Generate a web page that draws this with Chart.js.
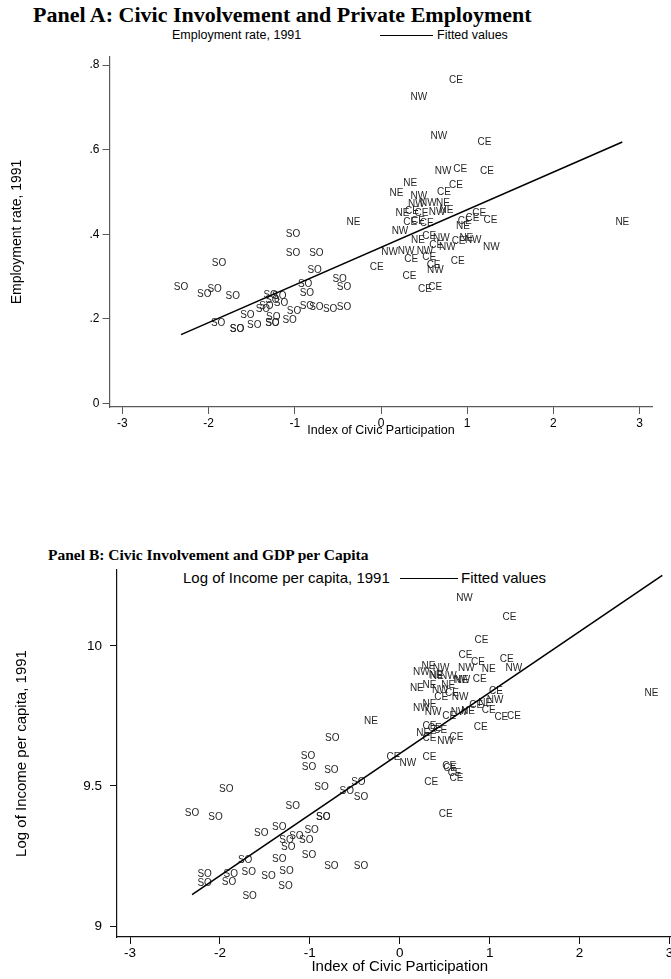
<!DOCTYPE html>
<html><head><meta charset="utf-8">
<script src="https://cdn.jsdelivr.net/npm/chart.js@4/dist/chart.umd.min.js"></script>
<style>
html,body{margin:0;padding:0;background:#fff;width:671px;height:979px;overflow:hidden;position:relative}
.t{position:absolute;white-space:nowrap;color:#000}
.title{font-family:"Liberation Serif","Times New Roman",serif;font-weight:bold}
.leg{font-family:"Liberation Sans",Arial,sans-serif}
.ln{position:absolute;height:0;border-top:1.2px solid #000}
canvas{position:absolute;left:0}
</style></head><body>
<div class="t title" style="left:33px;top:3px;font-size:22px;line-height:24px">Panel A: Civic Involvement and Private Employment</div>
<div class="t leg" style="left:172px;top:25px;font-size:12.5px;line-height:20px">Employment rate, 1991</div>
<div class="ln" style="left:380px;top:35px;width:53px"></div>
<div class="t leg" style="left:437px;top:25px;font-size:12.5px;line-height:20px">Fitted values</div>

<div class="t title" style="left:48px;top:545px;font-size:15.5px;line-height:20px">Panel B: Civic Involvement and GDP per Capita</div>
<div class="t leg" style="left:183px;top:567px;font-size:15px;line-height:22px">Log of Income per capita, 1991</div>
<div class="ln" style="left:400px;top:578px;width:58px"></div>
<div class="t leg" style="left:461px;top:567px;font-size:15px;line-height:22px">Fitted values</div>

<canvas id="ca" width="671" height="445" style="top:0"></canvas>
<canvas id="cb" width="700" height="439" style="top:540px"></canvas>
<script>
// ---------- Panel A data ----------
const regA = ['SO','SO','SO','SO','SO','SO','SO','SO','SO','SO','SO','SO','SO','SO','SO','SO','SO','SO','SO','SO','SO','SO','SO','SO','SO','SO','SO','SO','SO','SO','SO','SO','SO',
 'CE','NW','NW','CE','NW','CE','CE','NE','CE','NE','CE','NW','NW','NW','NE','NE','CE','CE','NW','NE','NE','CE','CE','CE','NW','NE','CE','CE','CE','CE','NE',
 'NE','CE','NW','CE','NW','CE','NE','NW','NW','NW','NW','NW','CE','CE','CE','NW','CE','CE','CE','CE','CE'];
const civicA = [-2.32,-2.05,-1.93,-1.72,-1.88,-1.02,-1.02,-0.75,-0.77,-0.88,-0.48,-0.43,-0.86,-1.28,-1.18,-1.26,-1.16,-1.33,-1.37,-0.86,-0.75,-0.59,-0.43,-1.01,-1.55,-1.89,-1.25,-1.06,-1.67,-1.67,-1.47,-1.26,-1.26,
 0.87,0.44,0.67,1.20,0.72,0.92,1.23,0.34,0.87,0.18,0.73,0.44,0.41,0.55,0.72,0.25,0.36,0.47,0.65,0.76,-0.32,0.34,0.43,0.53,0.22,0.95,0.97,1.06,1.14,1.27,2.80,
 0.43,0.56,0.70,0.64,0.77,0.90,0.99,1.07,1.28,0.10,0.29,0.51,0.35,0.56,0.61,0.63,0.89,-0.05,0.33,0.51,0.63];
const empA = [0.276,0.259,0.270,0.254,0.332,0.401,0.355,0.355,0.314,0.282,0.294,0.276,0.261,0.256,0.254,0.244,0.238,0.229,0.223,0.229,0.227,0.223,0.227,0.219,0.208,0.190,0.205,0.197,0.175,0.175,0.185,0.190,0.190,
 0.764,0.724,0.632,0.618,0.550,0.554,0.549,0.520,0.517,0.496,0.499,0.490,0.472,0.474,0.474,0.450,0.454,0.449,0.452,0.456,0.428,0.428,0.430,0.425,0.408,0.420,0.430,0.438,0.450,0.434,0.428,
 0.385,0.395,0.391,0.375,0.370,0.383,0.391,0.385,0.370,0.357,0.361,0.361,0.341,0.345,0.328,0.316,0.337,0.322,0.300,0.270,0.276];
const fitXA = [-2.32, 2.80];
const fitEmp = [0.163, 0.618];

// ---------- Panel B data ----------
const regB = ['NW','CE','CE','CE','CE','NW','NE','CE','NW','NE','NW','NW','NE','NE','NW','NE','NW','CE','NE','NE','NW','NE','CE','CE','NW','CE','NW','NE','NW','NE','NW','CE','NW','NE','CE','CE','CE','CE','CE','CE','NE','CE','CE','CE','NW','CE','CE','NW','CE','CE','CE','CE','CE','CE','CE','NE','NE',
 'SO','SO','SO','SO','SO','SO','SO','SO','SO','SO','SO','SO','SO','SO','SO','SO','SO','SO','SO','SO','SO','SO','SO','SO','SO','SO','SO','SO','SO','SO','SO','SO','SO','SO','SO'];
const civicB = [0.72,1.22,0.91,0.73,0.87,0.74,0.99,1.19,1.27,0.32,0.46,0.24,0.40,0.41,0.54,0.69,0.69,0.89,0.19,0.33,0.45,0.54,0.46,0.58,0.67,1.07,1.06,0.95,0.24,0.33,0.37,0.55,0.66,0.76,0.85,0.99,1.13,1.27,0.90,0.33,0.26,0.39,0.45,0.33,0.51,0.63,-0.07,0.09,0.33,0.55,0.56,0.61,0.63,0.35,0.51,-0.32,2.80,
 -0.75,-1.02,-1.01,-0.76,-1.93,-0.87,-0.46,-0.59,-0.43,-1.19,-2.31,-2.05,-0.85,-0.85,-1.54,-1.34,-0.98,-1.26,-1.15,-1.04,-1.24,-1.01,-1.34,-1.72,-0.76,-0.43,-1.68,-1.88,-1.26,-1.46,-2.17,-2.17,-1.90,-1.67,-1.27];
const income = [10.171,10.104,10.021,9.965,9.940,9.920,9.918,9.952,9.920,9.926,9.920,9.906,9.896,9.893,9.893,9.876,9.878,9.882,9.849,9.861,9.843,9.858,9.817,9.831,9.817,9.837,9.805,9.795,9.778,9.792,9.765,9.750,9.765,9.768,9.789,9.769,9.744,9.750,9.710,9.712,9.688,9.706,9.700,9.671,9.658,9.674,9.601,9.581,9.602,9.569,9.563,9.545,9.527,9.513,9.400,9.732,9.832,
 9.670,9.607,9.567,9.557,9.488,9.495,9.514,9.482,9.460,9.429,9.402,9.388,9.390,9.390,9.331,9.353,9.343,9.307,9.319,9.307,9.281,9.254,9.239,9.236,9.214,9.214,9.193,9.186,9.196,9.179,9.186,9.154,9.157,9.107,9.143];
const fitXB = [-2.31, 2.92];
const fitInc = [9.112, 10.252];

// ---------- tick labels ----------
const xTicks = [-3,-2,-1,0,1,2,3];
const xTickLabels = ['-3','-2','-1','0','1','2','3'];
const yTicksA = [0,0.2,0.4,0.6,0.8];
const yTickLabelsA = ['0','.2','.4','.6','.8'];
const yTicksB = [9,9.5,10];
const yTickLabelsB = ['9','9.5','10'];

const FAM = '"Liberation Sans", Arial, sans-serif';

const textLabels = {
  id: 'textLabels',
  afterDatasetDraw(chart, args) {
    const ds = chart.data.datasets[args.index];
    if (!ds.textLabels) return;
    const ctx = chart.ctx;
    ctx.save();
    ctx.font = ds.labelFont;
    ctx.fillStyle = ds.labelColor;
    ctx.textAlign = 'center';
    ctx.textBaseline = 'middle';
    args.meta.data.forEach((el, i) => ctx.fillText(ds.textLabels[i], el.x, el.y));
    ctx.restore();
  }
};

function makeChart(id, cfg) {
  const pts = cfg.xs.map((x, i) => ({x, y: cfg.ys[i]}));
  const fit = cfg.fitX.map((x, i) => ({x, y: cfg.fitY[i]}));
  const tickFont = {family: FAM, size: cfg.tickSize};
  const titleFont = {family: FAM, size: cfg.titleSize};
  return new Chart(document.getElementById(id), {
    type: 'scatter',
    data: {datasets: [
      {type: 'line', data: fit, borderColor: '#000', borderWidth: 1.6, pointRadius: 0, pointHoverRadius: 0, fill: false, order: 0},
      {type: 'scatter', data: pts, pointRadius: 0, pointHoverRadius: 0, textLabels: cfg.labels,
       labelFont: cfg.labelSize + 'px ' + FAM, labelColor: '#262626', order: 1, clip: false}
    ]},
    options: {
      responsive: false, animation: false, devicePixelRatio: 1,
      events: [],
      layout: {padding: cfg.padding},
      plugins: {legend: {display: false}, tooltip: {enabled: false}, title: {display: false}},
      scales: {
        x: {type: 'linear', min: cfg.xMin, max: cfg.xMax,
          afterBuildTicks: s => { s.ticks = xTicks.map(v => ({value: v})); },
          afterFit: s => { s.height = cfg.xH; },
          ticks: {callback: (v, i) => xTickLabels[i], font: tickFont, color: '#000', padding: cfg.xPad, maxRotation: 0, autoSkip: false},
          grid: {drawOnChartArea: false, drawTicks: true, tickLength: 7, color: cfg.axis, lineWidth: 1},
          border: {display: true, color: cfg.axis, width: 1.2},
          title: {display: true, text: 'Index of Civic Participation', font: titleFont, color: '#000', padding: {top: 0, bottom: cfg.xTitlePad}}
        },
        y: {type: 'linear', min: cfg.yMin, max: cfg.yMax,
          afterBuildTicks: s => { s.ticks = cfg.yTicks.map(v => ({value: v})); },
          afterFit: s => { s.width = cfg.yW; },
          ticks: {callback: (v, i) => cfg.yTickLabels[i], font: tickFont, color: '#000', padding: cfg.yPad, autoSkip: false},
          grid: {drawOnChartArea: false, drawTicks: true, tickLength: 7, color: cfg.axis, lineWidth: 1},
          border: {display: true, color: cfg.axis, width: 1.2},
          title: {display: true, text: cfg.yTitle, font: {family: FAM, size: cfg.yTitleSize}, color: '#000', padding: {top: cfg.yTitlePad, bottom: 0}}
        }
      }
    },
    plugins: [textLabels]
  });
}

makeChart('ca', {
  xs: civicA, ys: empA, labels: regA, fitX: fitXA, fitY: fitEmp,
  xMin: -3.15, xMax: 3.15, yMin: -0.008, yMax: 0.819,
  padding: {top: 57, left: 0, right: 18.5, bottom: 0},
  xH: 38, yW: 109.5, tickSize: 12, titleSize: 12.5, yTitleSize: 14,
  xPad: 2, yPad: 3, xTitlePad: 6.5, yTitlePad: 9,
  axis: '#5a5a5a', labelSize: 10,
  yTicks: yTicksA, yTickLabels: yTickLabelsA, yTitle: 'Employment rate, 1991'
});

makeChart('cb', {
  xs: civicB, ys: income, labels: regB, fitX: fitXB, fitY: fitInc,
  xMin: -3.145, xMax: 3.145, yMin: 8.961, yMax: 10.271,
  padding: {top: 30, left: 0, right: 17.5, bottom: 0},
  xH: 42, yW: 117, tickSize: 13.5, titleSize: 15, yTitleSize: 15,
  xPad: 1, yPad: 8, xTitlePad: 3, yTitlePad: 13,
  axis: '#111', labelSize: 10,
  yTicks: yTicksB, yTickLabels: yTickLabelsB, yTitle: 'Log of Income per capita, 1991'
});
</script>
</body></html>
